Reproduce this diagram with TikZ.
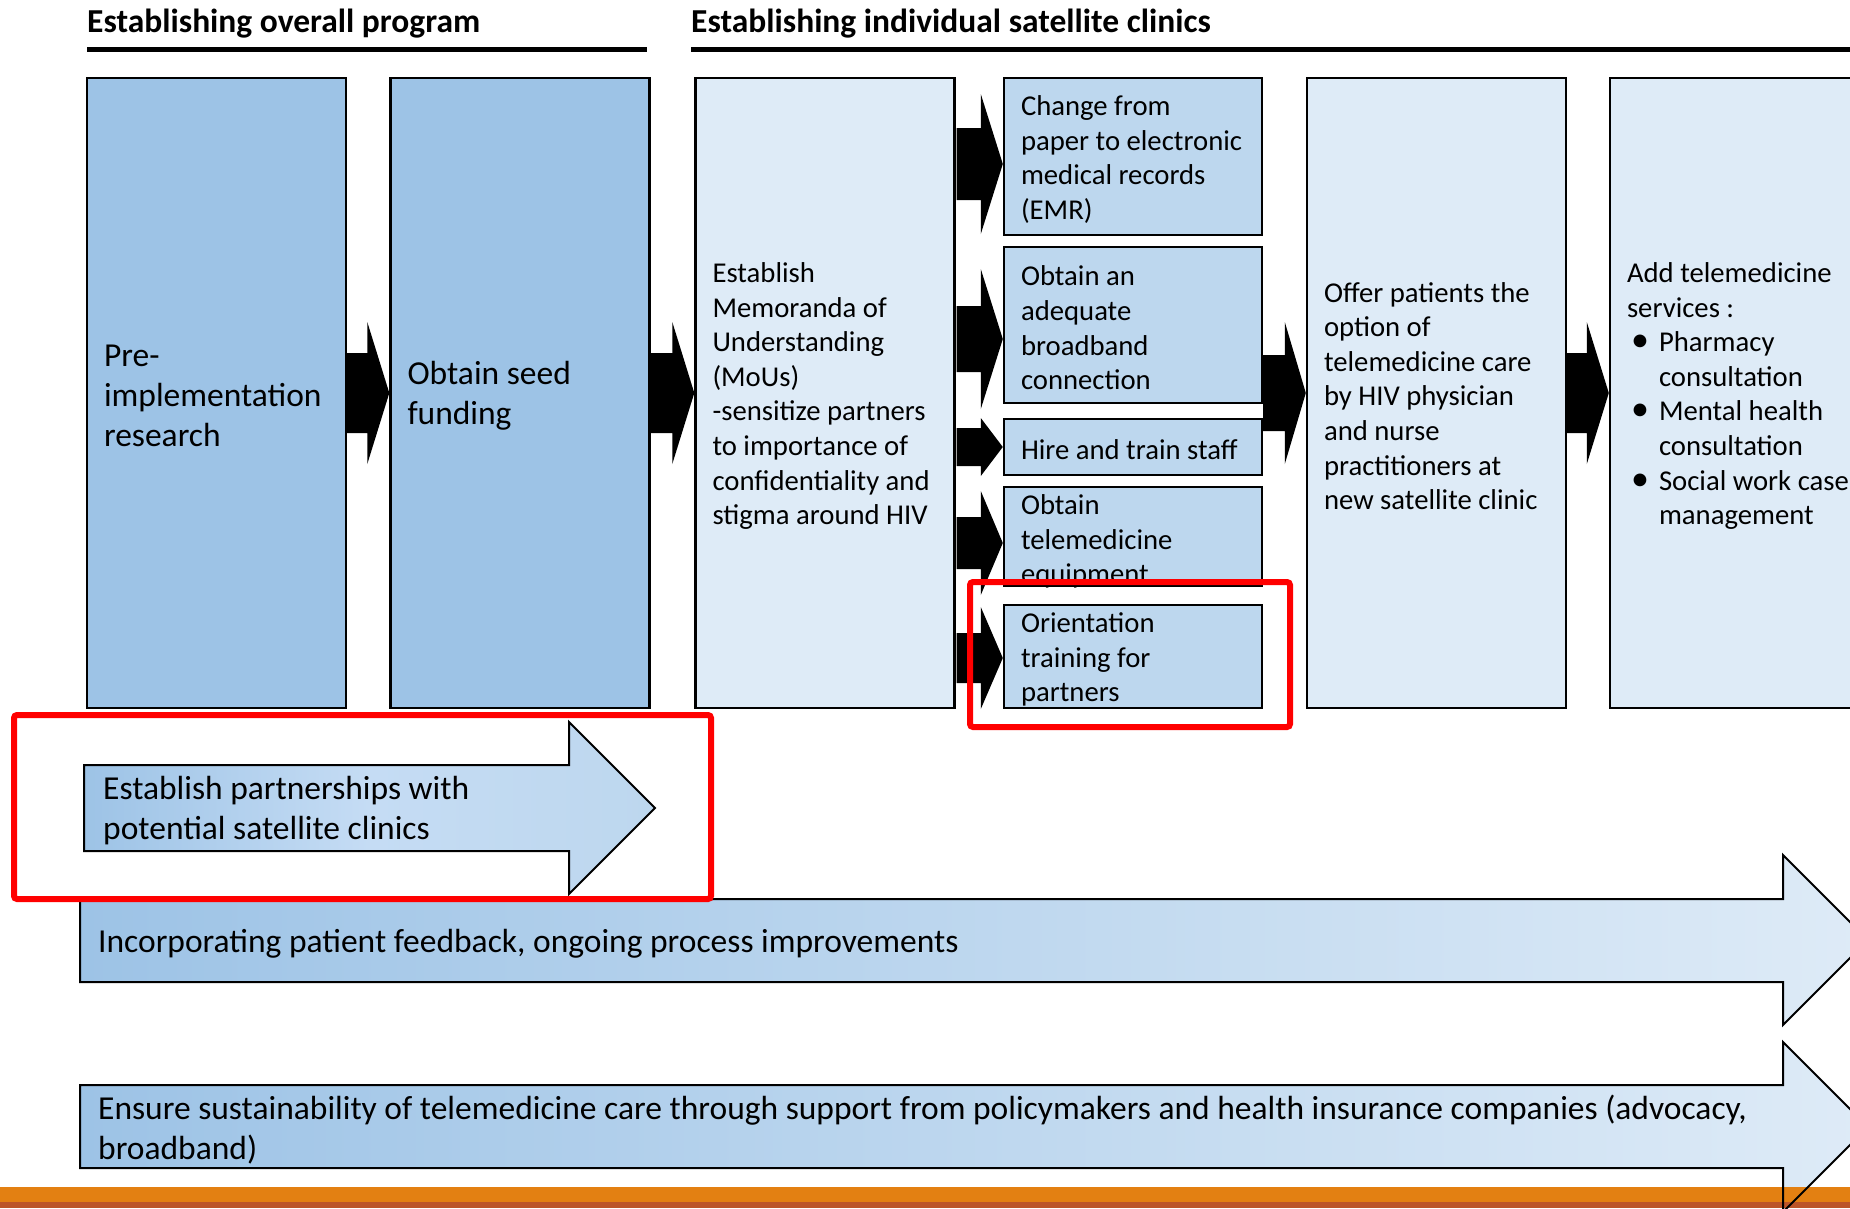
\documentclass[tikz,border=0pt]{standalone}
\usepackage{fontspec}
\setmainfont{Carlito}
\usetikzlibrary{calc}
\definecolor{darkb}{HTML}{9DC3E6}
\definecolor{lightb}{HTML}{DEEBF7}
\definecolor{midb}{HTML}{BDD7EE}
\definecolor{paleb}{HTML}{C5DCF4}
\definecolor{orng}{HTML}{E38012}
\definecolor{brn}{HTML}{BC5529}
\definecolor{redline}{HTML}{FF0000}
\newcommand\blockarr[5]{\fill[black] let \p1=#1, \p2=#2 in
  (\x1,\y2+#3) -- (\x2-#5,\y2+#3) -- (\x2-#5,\y2+#4) -- (\x2,\y2) --
  (\x2-#5,\y2-#4) -- (\x2-#5,\y2-#3) -- (\x1,\y2-#3) -- cycle;}
\newcommand\bul{\hspace*{4pt}\makebox[28pt][l]{\fontsize{36}{34.6}\selectfont\textbullet}}
\begin{document}
\begin{tikzpicture}[x=1pt,y=-1pt,
  bx/.style={draw=black, line width=2.4pt, inner sep=0pt, minimum width=259pt, minimum height=630pt},
  darkbox/.style={bx, fill=darkb},
  lightbox/.style={bx, fill=lightb},
  smallbox/.style={draw=black, line width=2.4pt, fill=midb, inner sep=0pt, minimum width=258pt},
  big/.style={font=\fontsize{33.5}{40}\selectfont, align=left, inner sep=0pt, anchor=west, yshift=-3pt},
  sm/.style={font=\fontsize{28.7}{34.6}\selectfont, align=left, inner sep=0pt, anchor=west, yshift=-3pt},
  hdr/.style={font=\bfseries\fontsize{33.5}{40}\selectfont, inner sep=0pt, anchor=base west},
  redbox/.style={draw=redline, line width=6pt, rounded corners=3pt},
  flow/.style={draw=black, line width=2pt, line join=miter},
  rule/.style={line width=4.5pt}]
\useasboundingbox (0,0) rectangle (1850,1208);
\clip (0,0) rectangle (1850,1208);

% headers
\node[hdr] (h1) at (87,32) {Establishing overall program};
\node[hdr] (h2) at (691,32) {Establishing individual satellite clinics};
\draw[rule] (87,49.5) -- (647,49.5);
\draw[rule] (691,49.5) -- (1850,49.5);

% big boxes
\node[darkbox] (b1) at (216.5,393) {};
\node[darkbox] (b2) at (520,393) {};
\node[lightbox] (b3) at (825,393) {};
\node[lightbox] (b4) at (1436.5,393) {};
\node[lightbox] (b5) at (1739.5,393) {};

% small boxes
\node[smallbox, minimum height=157pt] (s1) at (1133,156.5) {};
\node[smallbox, minimum height=156pt] (s2) at (1133,325) {};
\node[smallbox, minimum height=56pt]  (s3) at (1133,447) {};
\node[smallbox, minimum height=99pt]  (s4) at (1133,536.5) {};
\node[smallbox, minimum height=103pt] (s5) at (1133,656.5) {};

% texts
\node[big] (t1) at ([xshift=18pt]b1.west) {Pre-\\implementation\\research};
\node[big] (t2) at ([xshift=18pt]b2.west) {Obtain seed\\funding};
\node[sm] (t3) at ([xshift=18pt]b3.west) {Establish\\Memoranda of\\Understanding\\(MoUs)\\-sensitize partners\\to importance of\\confidentiality and\\stigma around HIV};
\node[sm] (ts1) at ([xshift=18pt]s1.west) {Change from\\paper to electronic\\medical records\\(EMR)};
\node[sm] (ts2) at ([xshift=18pt]s2.west) {Obtain an\\adequate\\broadband\\connection};
\node[sm] (ts3) at ([xshift=18pt]s3.west) {Hire and train staff};
\node[sm] (ts4) at ([xshift=18pt,yshift=-2pt]s4.west) {Obtain\\telemedicine\\equipment};
\node[sm] (ts5) at ([xshift=18pt]s5.west) {Orientation\\training for\\partners};
\node[sm] (t4) at ([xshift=18pt]b4.west) {Offer patients the\\option of\\telemedicine care\\by HIV physician\\and nurse\\practitioners at\\new satellite clinic};
\node[sm] (t5) at ([xshift=18pt]b5.west) {Add telemedicine\\services :\\
  \bul Pharmacy\\\hspace*{32pt}consultation\\
  \bul Mental health\\\hspace*{32pt}consultation\\
  \bul Social work case\\\hspace*{32pt}management};

% black block arrows
\blockarr{(b1.east)}{(b2.west)}{40pt}{71pt}{22pt}
\blockarr{(b2.east)}{(b3.west)}{40pt}{71pt}{22pt}
\blockarr{([xshift=1pt]b3.east)}{([yshift=-7.5pt]s1.west)}{36pt}{70pt}{22pt}
\blockarr{([xshift=1pt]b3.east)}{([yshift=-14pt]s2.west)}{33pt}{70pt}{22pt}
\blockarr{([xshift=1pt]b3.east)}{(s3.west)}{19pt}{29pt}{22pt}
\blockarr{([xshift=1pt]b3.east)}{([yshift=-6.5pt]s4.west)}{26pt}{52pt}{22pt}
\blockarr{([xshift=1pt]b3.east)}{([yshift=-1.5pt]s5.west)}{25pt}{51pt}{22pt}
\blockarr{(s2.east)}{(b4.west)}{38pt}{71pt}{21pt}
\blockarr{(b4.east)}{(b5.west)}{40pt}{71pt}{22pt}

% bottom arrows
\draw[flow, left color=darkb, right color=midb, middle color=paleb]
  (84,765) -- (569,765) -- (569,722) -- (655,808) -- (569,894) -- (569,851) -- (84,851) -- cycle;
\node[big] (p1) at (103,808) {Establish partnerships with\\potential satellite clinics};

\draw[flow, left color=darkb, right color=lightb]
  (80,899) -- (1783,899) -- (1783,855) -- (1868,940) -- (1783,1025) -- (1783,982) -- (80,982) -- cycle;
\node[big] (p2) at (98,941) {Incorporating patient feedback, ongoing process improvements};

\path[left color=darkb, right color=lightb]
  (80,1085) -- (1783,1085) -- (1783,1042) -- (1868,1127) -- (1783,1212) -- (1783,1168) -- (80,1168) -- cycle;
\fill[orng] (0,1187) rectangle (1850,1202);
\fill[brn] (0,1202) rectangle (1850,1208);
\draw[flow]
  (80,1085) -- (1783,1085) -- (1783,1042) -- (1868,1127) -- (1783,1212) -- (1783,1168) -- (80,1168) -- cycle;
\node[big] (p3) at (98,1127) {Ensure sustainability of telemedicine care through support from policymakers and health insurance companies (advocacy,\\broadband)};

% red highlight frames
\draw[redbox] (14,715) rectangle (711,899);
\draw[redbox] (970,582) rectangle (1290,727);
\end{tikzpicture}
\end{document}
